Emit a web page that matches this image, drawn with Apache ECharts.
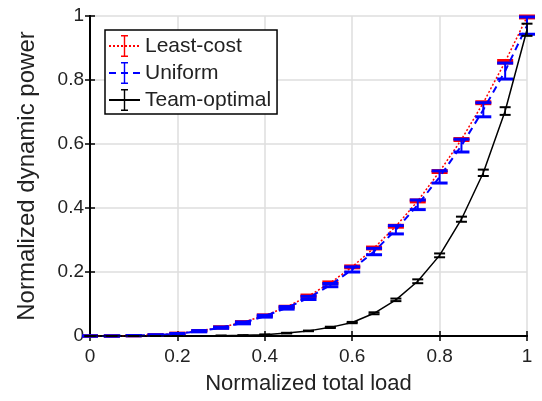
<!DOCTYPE html>
<html>
<head>
<meta charset="utf-8">
<script src="https://cdn.jsdelivr.net/npm/echarts@6/dist/echarts.min.js"></script>
<style>html,body{margin:0;padding:0;background:#fff;}#chart{width:542px;height:401px;}</style>
</head>
<body>
<div id="chart"></div>
<script>
var loads = [0,0.05,0.1,0.15,0.2,0.25,0.3,0.35,0.4,0.45,0.5,0.55,0.6,0.65,0.7,0.75,0.8,0.85,0.9,0.95,1];
var leastCost    = [0,0,0.001,0.003,0.008,0.016,0.027,0.043,0.064,0.091,0.125,0.166,0.216,0.275,0.343,0.422,0.514,0.614,0.729,0.857,0.997];
var leastCostErr = [0,0,0,0.001,0.001,0.001,0.002,0.002,0.002,0.002,0.003,0.003,0.003,0.003,0.003,0.003,0.003,0.003,0.003,0.004,0.003];
var uniform      = [0,0,0.001,0.003,0.007,0.015,0.026,0.041,0.062,0.088,0.119,0.159,0.208,0.264,0.332,0.41,0.497,0.595,0.707,0.828,0.97];
var uniformErr   = [0,0,0,0.001,0.001,0.002,0.002,0.003,0.003,0.004,0.005,0.005,0.008,0.01,0.013,0.015,0.019,0.02,0.022,0.025,0.027];
var teamOptimal  = [0,0,0,0,0,0,0.001,0.002,0.004,0.009,0.016,0.027,0.042,0.071,0.113,0.171,0.252,0.365,0.51,0.703,0.957];
var teamErr      = [0,0,0,0,0,0,0,0,0.001,0.001,0.001,0.002,0.002,0.003,0.004,0.006,0.006,0.008,0.01,0.012,0.019];
var xTicks = [0,0.2,0.4,0.6,0.8,1];
var yTicks = [0,0.2,0.4,0.6,0.8,1];

function pairs(ys){ return loads.map(function(x,i){ return [x, ys[i]]; }); }
function errData(ys, es){ return loads.map(function(x,i){ return [x, ys[i]-es[i], ys[i]+es[i]]; }); }
function errRender(color, capW, capLw, stemLw){
  return function(params, api){
    var x = api.value(0);
    var lo = api.coord([x, api.value(1)]);
    var hi = api.coord([x, api.value(2)]);
    var h = capW/2;
    return {type:'group', children:[
      {type:'line', shape:{x1:lo[0],y1:lo[1],x2:hi[0],y2:hi[1]}, style:{stroke:color,lineWidth:stemLw}},
      {type:'line', shape:{x1:lo[0]-h,y1:lo[1],x2:lo[0]+h,y2:lo[1]}, style:{stroke:color,lineWidth:capLw}},
      {type:'line', shape:{x1:hi[0]-h,y1:hi[1],x2:hi[0]+h,y2:hi[1]}, style:{stroke:color,lineWidth:capLw}}
    ]};
  };
}
var ebIcon = 'path://M0,0h22v0.01h-22z M7.5,0h7v1.6h-7z M10.3,0h1.4v22h-1.4z M7.5,20.4h7v1.6h-7z M0,21.99h22v0.01h-22z';

var fontFam = 'Liberation Sans, Arial, sans-serif';
var textColor = '#222';
var chart = echarts.init(document.getElementById('chart'), null, {renderer:'canvas'});
var axisCommon = {
  type:'value', min:0, max:1, interval:0.2,
  axisLine:{show:true, lineStyle:{color:'#000', width:2}},
  axisTick:{show:true, inside:true, length:5, lineStyle:{color:'#000', width:1.5}},
};
chart.setOption({
  animation:false,
  grid:{left:90, top:16, width:437, height:320, show:false},
  legend:{
    orient:'vertical', left:105, top:30,
    data:['Least-cost','Uniform','Team-optimal'],
    itemWidth:31, itemHeight:27.5, itemGap:5,
    padding:[5,6,3,3],
    borderColor:'#000', borderWidth:1.5, backgroundColor:'#fff',
    textStyle:{fontSize:21, color:textColor, fontFamily:fontFam},
    selectedMode:false
  },
  xAxis:[
    Object.assign({}, axisCommon, {position:'bottom',
      name:'Normalized total load', nameLocation:'middle', nameGap:37,
      nameTextStyle:{fontSize:22, color:textColor, fontFamily:fontFam},
      axisLabel:{fontSize:19, color:textColor, fontFamily:fontFam, margin:11},
      splitLine:{show:true, lineStyle:{color:'#dedede', width:1.5}}}),
    Object.assign({}, axisCommon, {position:'top', axisLabel:{show:false}, splitLine:{show:false}})
  ],
  yAxis:[
    Object.assign({}, axisCommon, {position:'left',
      name:'Normalized dynamic power', nameLocation:'middle', nameGap:51,
      nameTextStyle:{fontSize:24, color:textColor, fontFamily:fontFam},
      axisLabel:{fontSize:19, color:textColor, fontFamily:fontFam, margin:6},
      splitLine:{show:true, lineStyle:{color:'#dedede', width:1.5}}}),
    Object.assign({}, axisCommon, {position:'right', axisLabel:{show:false}, splitLine:{show:false}})
  ],
  series:[
    {name:'Least-cost', type:'line', data:pairs(leastCost), showSymbol:false, symbol:ebIcon, symbolKeepAspect:true,
      itemStyle:{color:'#ff0000'}, lineStyle:{color:'#ff0000', width:1.5, type:[2,2]}, z:2},
    {name:'Least-cost-err', type:'custom', data:errData(leastCost, leastCostErr), renderItem:errRender('#ff0000', 16, 3, 1.5), clip:false, z:3},
    {name:'Uniform', type:'line', data:pairs(uniform), showSymbol:false, symbol:ebIcon, symbolKeepAspect:true,
      itemStyle:{color:'#0000ff'}, lineStyle:{color:'#0000ff', width:2, type:[7,5]}, z:4},
    {name:'Uniform-err', type:'custom', data:errData(uniform, uniformErr), renderItem:errRender('#0000ff', 16, 3, 2), clip:false, z:5},
    {name:'Team-optimal', type:'line', data:pairs(teamOptimal), showSymbol:false, symbol:ebIcon, symbolKeepAspect:true,
      itemStyle:{color:'#000'}, lineStyle:{color:'#000', width:1.5}, z:6},
    {name:'Team-optimal-err', type:'custom', data:errData(teamOptimal, teamErr), renderItem:errRender('#000', 11, 2, 1.5), clip:false, z:7}
  ]
});
</script>
</body>
</html>
